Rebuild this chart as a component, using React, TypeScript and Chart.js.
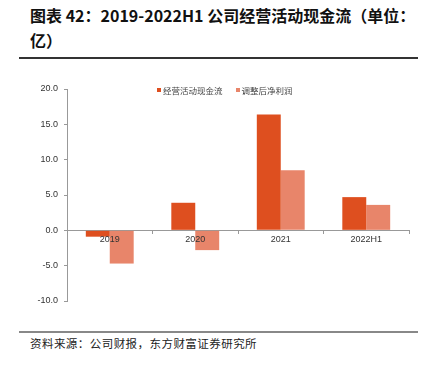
import React, { useEffect, useRef } from "react";
import { Chart, registerables } from "chart.js";

Chart.register(...registerables);

const categories = ["2019", "2020", "2021", "2022H1"];
const seriesNames = ["经营活动现金流", "调整后净利润"];
const operatingCashFlow = [-0.9, 3.9, 16.4, 4.7];
const adjustedNetProfit = [-4.7, -2.8, 8.5, 3.6];
const colors = ["#DE4F1F", "#E8856A"];
const yMin = -10;
const yMax = 20;
const yStep = 5;

const cjk = '"Noto Sans CJK SC", "DejaVu Sans", sans-serif';

export default function App() {
  const ref = useRef<HTMLCanvasElement | null>(null);

  useEffect(() => {
    if (!ref.current) return;
    const chart = new Chart(ref.current, {
      type: "bar",
      data: {
        labels: categories,
        datasets: [
          {
            label: seriesNames[0],
            data: operatingCashFlow,
            backgroundColor: colors[0],
            categoryPercentage: 0.56,
            barPercentage: 1.0,
          },
          {
            label: seriesNames[1],
            data: adjustedNetProfit,
            backgroundColor: colors[1],
            categoryPercentage: 0.56,
            barPercentage: 1.0,
          },
        ],
      },
      options: {
        animation: false,
        responsive: false,
        maintainAspectRatio: false,
        layout: { padding: { top: 19, right: 29, bottom: 19, left: 0 } },
        plugins: { legend: { display: false }, tooltip: { enabled: false } },
        scales: {
          x: {
            position: { y: 0 } as any,
            offset: true,
            grid: {
              offset: true,
              drawOnChartArea: false,
              drawTicks: true,
              tickLength: 3,
              color: "#999",
            },
            border: { display: true, color: "#999", width: 1 },
            ticks: {
              color: "#333",
              font: { family: "Arial, 'Liberation Sans', sans-serif", size: 9 },
              padding: 1,
              z: 1,
            } as any,
          },
          y: {
            min: yMin,
            max: yMax,
            afterFit: (s: any) => {
              s.width = 67;
            },
            grid: {
              drawOnChartArea: false,
              drawTicks: true,
              tickLength: 3,
              color: "#999",
            },
            border: { display: true, color: "#999", width: 1 },
            ticks: {
              stepSize: yStep,
              color: "#333",
              padding: 6,
              font: { family: "Arial, 'Liberation Sans', sans-serif", size: 9 },
              callback: (v: any) => Number(v).toFixed(1),
            },
          },
        },
      },
    });
    return () => chart.destroy();
  }, []);

  return (
    <div
      style={{
        position: "fixed",
        left: 0,
        top: 0,
        width: 438,
        height: 371,
        background: "#fff",
        fontFamily: cjk,
      }}
    >
      <div
        style={{
          position: "absolute",
          left: 30,
          top: 3,
          width: 400,
          fontSize: 16,
          lineHeight: "25px",
          fontWeight: 700,
          color: "#111",
          whiteSpace: "pre-wrap",
        }}
      >
        图表 42：2019-2022H1 公司经营活动现金流（单位：
        <br />
        亿）
      </div>
      <div
        style={{
          position: "absolute",
          left: 19,
          top: 57,
          width: 399,
          height: 2,
          background: "#333",
        }}
      />
      <canvas
        ref={ref}
        width={438}
        height={250}
        style={{ position: "absolute", left: 0, top: 70, width: 438, height: 250 }}
      />
      <div
        style={{
          position: "absolute",
          left: 157,
          top: 84,
          fontSize: 8.5,
          color: "#444",
          display: "flex",
          alignItems: "center",
          whiteSpace: "nowrap",
        }}
      >
        {seriesNames.map((n, i) => (
          <span
            key={n}
            style={{ display: "flex", alignItems: "center", marginRight: i === 0 ? 13 : 0 }}
          >
            <span
              style={{
                display: "inline-block",
                width: 4,
                height: 4,
                background: colors[i],
                marginRight: 2,
              }}
            />
            {n}
          </span>
        ))}
      </div>
      <div
        style={{
          position: "absolute",
          left: 19,
          top: 331,
          width: 399,
          height: 2,
          background: "#888",
        }}
      />
      <div
        style={{
          position: "absolute",
          left: 30,
          top: 335,
          fontSize: 11.5,
          letterSpacing: 0.45,
          color: "#222",
          whiteSpace: "nowrap",
        }}
      >
        资料来源：公司财报，东方财富证券研究所
      </div>
    </div>
  );
}
